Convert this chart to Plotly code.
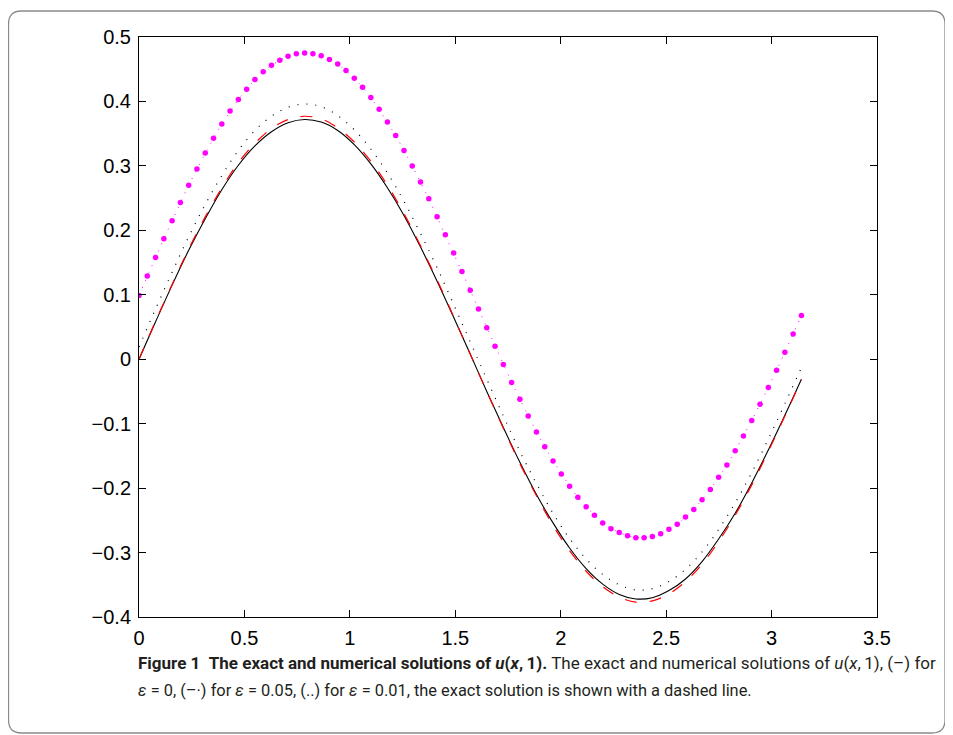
import numpy as np
import plotly.graph_objects as go

# ---------------- data ----------------
# fine grid (81 points, 0..pi) used by the magenta marker series, coarse grid (41 points) for the lines
x_fine = np.linspace(0, np.pi, 81)
x_coarse = np.linspace(0, np.pi, 41)

# (-) epsilon = 0, black solid
u_eps0 = [0.000, 0.058, 0.115, 0.169, 0.218, 0.263, 0.301, 0.331, 0.353, 0.367,
          0.372, 0.368, 0.355, 0.333, 0.303, 0.266, 0.223, 0.174, 0.121, 0.065,
          0.008, -0.050, -0.106, -0.160, -0.210, -0.254, -0.293, -0.325, -0.349, -0.365,
          -0.372, -0.370, -0.359, -0.341, -0.314, -0.279, -0.239, -0.192, -0.141, -0.087,
          -0.031]

# exact solution, red dashed
u_exact = [0.000, 0.059, 0.116, 0.171, 0.221, 0.266, 0.305, 0.335, 0.358, 0.372,
           0.377, 0.373, 0.359, 0.337, 0.307, 0.270, 0.226, 0.176, 0.123, 0.066,
           0.008, -0.050, -0.107, -0.162, -0.212, -0.258, -0.297, -0.329, -0.353, -0.369,
           -0.377, -0.375, -0.364, -0.345, -0.318, -0.283, -0.242, -0.195, -0.143, -0.088,
           -0.032]

# (..) epsilon = 0.01, black dotted
u_eps001 = [0.019, 0.078, 0.135, 0.190, 0.240, 0.285, 0.324, 0.355, 0.377, 0.391,
            0.396, 0.392, 0.378, 0.356, 0.326, 0.289, 0.245, 0.195, 0.142, 0.085,
            0.027, -0.031, -0.088, -0.143, -0.193, -0.239, -0.278, -0.310, -0.334, -0.350,
            -0.358, -0.356, -0.345, -0.326, -0.299, -0.264, -0.223, -0.176, -0.124, -0.069,
            -0.013]

# (-.) epsilon = 0.05, magenta dots
u_eps005 = [0.099, 0.129, 0.158, 0.187, 0.215, 0.243, 0.270, 0.295, 0.320, 0.343,
            0.365, 0.385, 0.403, 0.419, 0.434, 0.446, 0.456, 0.464, 0.470, 0.474,
            0.475, 0.474, 0.471, 0.465, 0.458, 0.448, 0.436, 0.422, 0.406, 0.388,
            0.368, 0.347, 0.324, 0.300, 0.275, 0.249, 0.221, 0.193, 0.165, 0.136,
            0.107, 0.078, 0.049, 0.020, -0.008, -0.036, -0.062, -0.088, -0.113, -0.136,
            -0.158, -0.178, -0.197, -0.214, -0.229, -0.242, -0.254, -0.263, -0.269, -0.274,
            -0.277, -0.277, -0.275, -0.271, -0.264, -0.256, -0.245, -0.233, -0.218, -0.202,
            -0.183, -0.164, -0.142, -0.119, -0.095, -0.070, -0.044, -0.017, 0.011, 0.039,
            0.068]

x_ticks = [0, 0.5, 1, 1.5, 2, 2.5, 3, 3.5]
x_ticktext = ["0", "0.5", "1", "1.5", "2", "2.5", "3", "3.5"]
y_ticks = [-0.4, -0.3, -0.2, -0.1, 0, 0.1, 0.2, 0.3, 0.4, 0.5]
y_ticktext = ["\u22120.4", "\u22120.3", "\u22120.2", "\u22120.1", "0", "0.1", "0.2", "0.3", "0.4", "0.5"]

caption_line1 = ("<b>Figure 1\u00a0\u00a0The exact and numerical solutions of <i>u</i>(<i>x</i>,\u2009"
                 "1).</b> The exact and numerical solutions of <i>u</i>(<i>x</i>,\u20091), (\u2013) for")
caption_line2 = ("<i>\u03b5</i> = 0, (\u2013\u00b7) for <i>\u03b5</i> = 0.05, (..) for <i>\u03b5</i> = 0.01, "
                 "the exact solution is shown with a dashed line.")

# ---------------- figure ----------------
# the page body has an 8px margin, so the figure is sized/positioned to compensate
OFF = 8
W, H = 953 - OFF, 735 - OFF
ML, MT = 139 - OFF, 37 - OFF          # plot area left/top in page px: 139, 37
MR = W - (877 - OFF)                   # plot area right in page px: 877
MB = H - (617 - OFF)                   # plot area bottom in page px: 617
PW, PH = W - ML - MR, H - MT - MB

fig = go.Figure()
fig.add_trace(go.Scatter(x=x_coarse, y=u_eps0, mode="lines", name="eps=0",
                         line=dict(color="black", width=1.1), line_shape="spline"))
fig.add_trace(go.Scatter(x=x_coarse, y=u_eps001, mode="lines", name="eps=0.01",
                         line=dict(color="black", width=1.2, dash="1px,8px"), line_shape="spline"))
fig.add_trace(go.Scatter(x=x_fine, y=u_eps005, mode="lines+markers", name="eps=0.05",
                         line=dict(color="#ff00ff", width=1, dash="1px,7px"),
                         marker=dict(color="#ff00ff", size=5.5)))
fig.add_trace(go.Scatter(x=x_coarse, y=u_exact, mode="lines", name="exact",
                         line=dict(color="#ff0000", width=1.2, dash="12px,13px"), line_shape="spline"))


def px2paper(px, py):
    """page pixel -> paper coordinates"""
    return (px - OFF - ML) / PW, (H - MB - (py - OFF)) / PH


def rounded_box(x0, y0, x1, y1, r):
    rx, ry = r / PW, r / PH
    ax, ay = px2paper(x0, y0)
    bx, by = px2paper(x1, y1)
    return (f"M {ax+rx},{ay} L {bx-rx},{ay} Q {bx},{ay} {bx},{ay-ry} "
            f"L {bx},{by+ry} Q {bx},{by} {bx-rx},{by} "
            f"L {ax+rx},{by} Q {ax},{by} {ax},{by+ry} "
            f"L {ax},{ay-ry} Q {ax},{ay} {ax+rx},{ay} Z")


fig.add_shape(type="path", xref="paper", yref="paper",
              path=rounded_box(8.5, 11, 945, 733, 13),
              line=dict(color="#8a8a8a", width=1.3), layer="below")

cx, cy1 = px2paper(136, 663)
_, cy2 = px2paper(136, 690)
fig.add_annotation(x=cx, y=cy1, xref="paper", yref="paper", text=caption_line1,
                   showarrow=False, xanchor="left", yanchor="middle",
                   font=dict(family="Roboto, Liberation Sans, sans-serif", size=17, color="#231f20"))
fig.add_annotation(x=cx, y=cy2, xref="paper", yref="paper", text=caption_line2,
                   showarrow=False, xanchor="left", yanchor="middle",
                   font=dict(family="Roboto, Liberation Sans, sans-serif", size=16.4, color="#231f20"))

axis_common = dict(showgrid=False, zeroline=False, showline=True, linecolor="black",
                   linewidth=1, mirror="ticks", ticks="inside", ticklen=7,
                   tickcolor="black", tickwidth=1, ticklabelstandoff=3,
                   tickfont=dict(family="Liberation Sans, Arial, sans-serif", size=20, color="black"))

fig.update_layout(
    width=W, height=H,
    margin=dict(l=ML, r=MR, t=MT, b=MB, autoexpand=False),
    paper_bgcolor="white", plot_bgcolor="white",
    showlegend=False,
    xaxis=dict(range=[0, 3.5], tickvals=x_ticks, ticktext=x_ticktext, **axis_common),
    yaxis=dict(range=[-0.4, 0.5], tickvals=y_ticks, ticktext=y_ticktext, **axis_common),
)

fig.write_html("out.html")
